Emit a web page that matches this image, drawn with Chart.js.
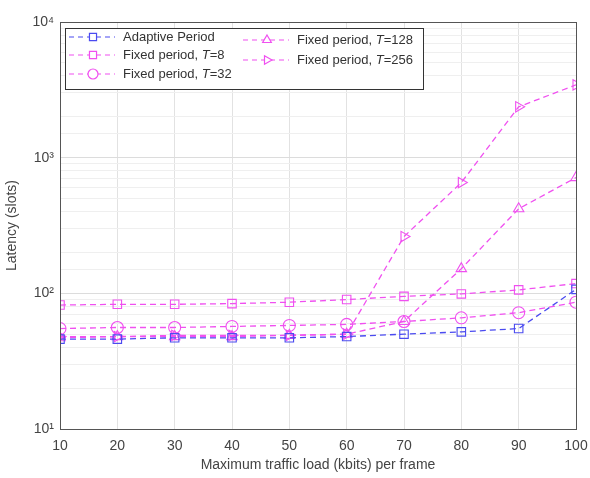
<!DOCTYPE html>
<html>
<head>
<meta charset="utf-8">
<script src="https://cdn.jsdelivr.net/npm/chart.js@4"></script>
<style>
  html, body { margin: 0; padding: 0; background: #fff; }
  #wrap { width: 590px; height: 478px; position: relative; }
</style>
</head>
<body>
<div id="wrap"><canvas id="latencyChart" width="590" height="478"></canvas></div>
<script>
// x categories (traffic load, kbits per frame)
const loads = [10, 20, 30, 40, 50, 60, 70, 80, 90, 100];

// latency in slots
const adaptive = [46, 46, 47, 47, 47, 48, 50, 52, 55, 107];
const fixedT8 = [82, 83, 83, 84, 86, 90, 95, 99, 106, 118];
const fixedT32 = [55, 56, 56, 57, 58, 59, 62, 66, 72, 86];
const fixedT128 = [47, 48, 48, 48, 49, 50, 62, 152, 420, 713];
const fixedT256 = [48, 48, 49, 49, 49, 50, 262, 655, 2370, 3440];

const blue = '#4b4bf0';
const pink = '#f050f0';

const series = [
    { label: 'Adaptive Period', data: adaptive, color: blue, style: 'rect', rot: 0 },
    { label: 'Fixed period, T=8', data: fixedT8, color: pink, style: 'rect', rot: 0 },
    { label: 'Fixed period, T=32', data: fixedT32, color: pink, style: 'circle', rot: 0 },
    { label: 'Fixed period, T=128', data: fixedT128, color: pink, style: 'triangle', rot: 0 },
    { label: 'Fixed period, T=256', data: fixedT256, color: pink, style: 'triangle', rot: 90 }
];

const fontFam = '"Liberation Sans", Arial, sans-serif';
const sup = { 1: '\u00b9', 2: '\u00b2', 3: '\u00b3', 4: '\u2074' };

// box around the plot + legend in two columns
const framePlugin = {
    id: 'frame',
    afterDraw(chart) {
        const { ctx, chartArea: a } = chart;
        ctx.save();
        ctx.strokeStyle = '#555';
        ctx.lineWidth = 1;
        ctx.strokeRect(a.left + 0.5, a.top + 0.5, a.right - a.left, a.bottom - a.top);

        // legend box
        const lx = a.left + 5, ly = a.top + 6, lw = 358, lh = 61;
        ctx.fillStyle = '#fff';
        ctx.fillRect(lx, ly, lw, lh);
        ctx.strokeStyle = '#333';
        ctx.strokeRect(lx + 0.5, ly + 0.5, lw, lh);

        const slots = [
            [lx + 4, ly + 9], [lx + 4, ly + 27], [lx + 4, ly + 46],
            [lx + 178, ly + 12], [lx + 178, ly + 32]
        ];
        ctx.font = '13px ' + fontFam;
        ctx.textBaseline = 'middle';
        series.forEach((s, i) => {
            const [x, y] = slots[i];
            ctx.strokeStyle = s.color;
            ctx.lineWidth = 1.2;
            ctx.setLineDash([5, 4]);
            ctx.beginPath();
            ctx.moveTo(x, y);
            ctx.lineTo(x + 46, y);
            ctx.stroke();
            ctx.setLineDash([]);
            ctx.fillStyle = '#fff';
            Chart.helpers.drawPoint(ctx, {
                pointStyle: s.style, radius: 5, rotation: s.rot, borderWidth: 1.2
            }, x + 24, y);
            ctx.fillStyle = '#333';
            const parts = s.label.split('T=');
            let tx = x + 54;
            ctx.fillText(parts[0], tx, y);
            if (parts.length > 1) {
                tx += ctx.measureText(parts[0]).width;
                ctx.font = 'italic 13px ' + fontFam;
                ctx.fillText('T', tx, y);
                tx += ctx.measureText('T').width;
                ctx.font = '13px ' + fontFam;
                ctx.fillText('=' + parts[1], tx, y);
            }
        });
        ctx.restore();
    }
};

document.addEventListener('DOMContentLoaded', function () {
    const ctx = document.getElementById('latencyChart').getContext('2d');
    new Chart(ctx, {
        type: 'line',
        data: {
            labels: loads,
            datasets: series.map(s => ({
                label: s.label,
                data: s.data,
                borderColor: s.color,
                backgroundColor: 'rgba(0,0,0,0)',
                borderWidth: 1.3,
                borderDash: [6, 4],
                pointStyle: s.style,
                pointRotation: s.rot,
                pointRadius: 6,
                pointBorderWidth: 1.1,
                pointBorderColor: s.color,
                pointBackgroundColor: 'rgba(0,0,0,0)',
                tension: 0
            }))
        },
        options: {
            responsive: false,
            animation: false,
            layout: { padding: { top: 22, right: 0, left: 0, bottom: 0 } },
            plugins: {
                legend: { display: false },
                tooltip: { enabled: false }
            },
            scales: {
                x: {
                    type: 'linear',
                    min: 10,
                    max: 100,
                    ticks: { stepSize: 10, color: '#444', font: { size: 14, family: fontFam }, padding: 9 },
                    grid: { color: '#e2e2e2', tickLength: 0 },
                    border: { display: false },
                    title: {
                        display: true, text: 'Maximum traffic load (kbits) per frame',
                        color: '#444', font: { size: 14, family: fontFam }, padding: { top: 0 }
                    },
                    afterFit(scale) {
                        scale.height = 49;
                        scale.paddingRight = 14;
                    }
                },
                y: {
                    type: 'logarithmic',
                    min: 10,
                    max: 10000,
                    ticks: {
                        color: '#444', font: { size: 14, family: fontFam }, padding: 6,
                        autoSkip: false,
                        callback(v) {
                            const e = Math.log10(v);
                            return Math.abs(e - Math.round(e)) < 1e-9 ? '10' + sup[Math.round(e)] : '';
                        }
                    },
                    grid: {
                        tickLength: 0,
                        color(c) {
                            const e = Math.log10(c.tick.value);
                            return Math.abs(e - Math.round(e)) < 1e-9 ? '#dcdcdc' : '#efefef';
                        }
                    },
                    border: { display: false },
                    title: {
                        display: true, text: 'Latency (slots)',
                        color: '#444', font: { size: 14, family: fontFam }, padding: { bottom: 2 }
                    },
                    afterFit(scale) { scale.width = 60; }
                }
            }
        },
        plugins: [framePlugin]
    });
});
</script>
</body>
</html>
